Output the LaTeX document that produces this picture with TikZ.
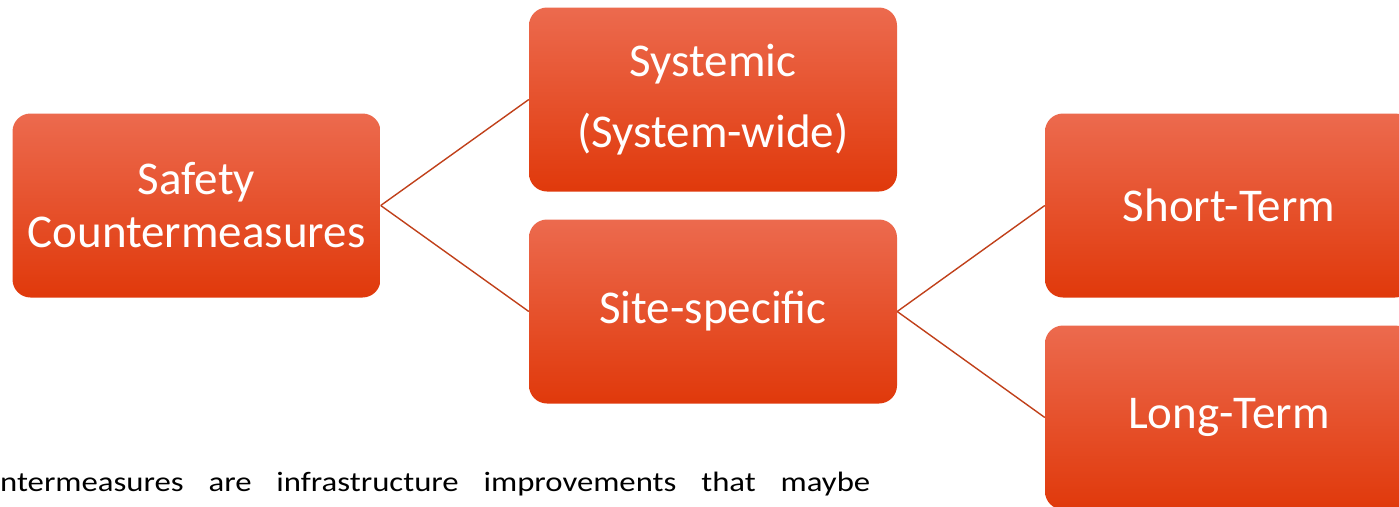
\documentclass[tikz,border=0pt]{standalone}
\usepackage{fontspec}
\setmainfont{Carlito}
\newfontfamily\notefont[FakeStretch=1.17]{Carlito}
\usetikzlibrary{positioning}
\definecolor{boxtop}{HTML}{EC6A4E}
\definecolor{boxmid}{HTML}{F04519}
\definecolor{boxbot}{HTML}{E0390B}
\definecolor{linkred}{HTML}{C0401A}

\begin{document}
\begin{tikzpicture}[
        x=1pt, y=-1pt,
        box/.style={rectangle, rounded corners=18pt, top color=boxtop, middle color=boxmid, bottom color=boxbot, draw=none, minimum width=368pt, minimum height=184pt, align=center, text=white, font=\fontsize{47}{71}\selectfont},
        link/.style={draw=linkred, line width=1.4pt},
        bodytext/.style={font=\notefont\fontsize{28}{34}\selectfont, inner sep=0pt, anchor=base west}
    ]
    \useasboundingbox (0,0) rectangle (1399,506);
    \clip (0,0) rectangle (1399,506);
    \node (safety) [box, font=\fontsize{47}{53}\selectfont] at (196.5,205.5) {Safety\\Countermeasures};
    \node (systemic) [box] at (713,99.5) {Systemic\\(System-wide)};
    \node (site) [box] at (713,311.5) {Site-specific};
    \node (short) [box] at (1229,205.5) {Short-Term};
    \node (long) [box] at (1229,417.5) {Long-Term};
    \draw [link] (safety.east) -- (systemic.west);
    \draw [link] (safety.east) -- (site.west);
    \draw [link] (site.east) -- (short.west);
    \draw [link] (site.east) -- (long.west);
    \node (note) [bodytext] at (0,491) {\makebox[870pt][s]{ntermeasures are infrastructure improvements that maybe}};
\end{tikzpicture}
\end{document}
